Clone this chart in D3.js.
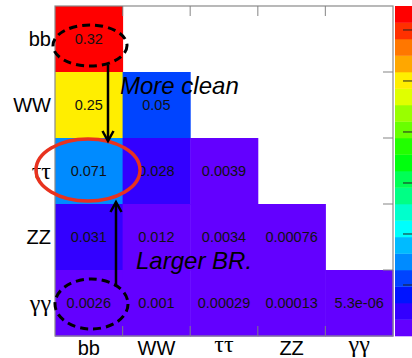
<!DOCTYPE html>
<html>
<head>
<meta charset="utf-8">
<script src="https://cdnjs.cloudflare.com/ajax/libs/d3/7.8.5/d3.min.js"></script>
<style>
    html, body { margin: 0; padding: 0; background: #fff; }
    svg { display: block; }
</style>
</head>
<body>
<svg width="412" height="358"></svg>
<script>
// channels, rows top -> bottom, columns left -> right
var channels = ['bb', 'WW', '\u03c4\u03c4', 'ZZ', '\u03b3\u03b3'];
var serifLabels = ['\u03c4\u03c4', '\u03b3\u03b3'];

// lower triangle, one array per row
var rowBB = [0.32];
var rowWW = [0.25, 0.05];
var rowTauTau = [0.071, 0.028, 0.0039];
var rowZZ = [0.031, 0.012, 0.0034, 0.00076];
var rowGamGam = [0.0026, 0.001, 0.00029, 0.00013, 5.3e-06];
var cellLabels = [
    ['0.32'],
    ['0.25', '0.05'],
    ['0.071', '0.028', '0.0039'],
    ['0.031', '0.012', '0.0034', '0.00076'],
    ['0.0026', '0.001', '0.00029', '0.00013', '5.3e-06']
];
var zRange = [0, 0.3235];
var zTicks = [0.05, 0.1, 0.15, 0.2, 0.25, 0.3];
var nLevels = 20;

(function() {
    var self = this;
    var svg = d3.select('svg');

    var frame = { left: 55, right: 393, top: 6, bottom: 336 };

    var x = d3.scaleBand().domain(channels).range([frame.left, frame.right]);
    var y = d3.scaleBand().domain(channels).range([frame.top, frame.bottom]);
    var z = d3.scaleLinear().domain(zRange).range([0, nLevels]);
    var zAxisY = d3.scaleLinear().domain(zRange).range([frame.bottom, frame.top]);

    // ROOT "pretty palette" (50 colours, hue 280 -> 0), 20 contour levels
    this.levelColor = function(k) {
        var idx = Math.floor((k + 0.99) * 50 / nLevels);
        var hue = 280 - (idx + 1) * 280 / 50;
        return d3.hsl(hue, 1, 0.5).toString();
    };
    this.valueColor = function(v) {
        var k = Math.min(nLevels - 1, Math.floor(z(v)));
        return self.levelColor(k);
    };

    var rows = [rowBB, rowWW, rowTauTau, rowZZ, rowGamGam];
    var cells = [];
    rows.forEach(function(r, i) {
        r.forEach(function(v, j) {
            cells.push({ row: channels[i], col: channels[j], v: v, label: cellLabels[i][j] });
        });
    });

    svg.selectAll('rect.cell')
        .data(cells)
        .enter().append('rect')
        .attr('class', 'cell')
        .attr('x', function(d) { return x(d.col); })
        .attr('y', function(d) { return y(d.row); })
        .attr('width', x.bandwidth() + 0.5)
        .attr('height', y.bandwidth() + 0.5)
        .style('fill', function(d) { return self.valueColor(d.v); });

    svg.selectAll('text.val')
        .data(cells)
        .enter().append('text')
        .attr('class', 'val')
        .attr('x', function(d) { return x(d.col) + x.bandwidth() / 2; })
        .attr('y', function(d) { return y(d.row) + y.bandwidth() / 2 + 5; })
        .attr('text-anchor', 'middle')
        .style('font-family', 'Liberation Sans, Arial, sans-serif')
        .style('font-size', '14.5px')
        .style('fill', '#111')
        .text(function(d) { return d.label; });

    // frame + ticks
    svg.append('rect')
        .attr('x', frame.left).attr('y', frame.top)
        .attr('width', frame.right - frame.left)
        .attr('height', frame.bottom - frame.top)
        .style('fill', 'none').style('stroke', '#8a8a8a').style('stroke-width', 1.2);

    var inner = channels.slice(1);
    var tk = svg.append('g').style('stroke', '#808080').style('stroke-width', 1.2).style('opacity', 0.8);
    inner.forEach(function(c) {
        tk.append('line').attr('x1', x(c)).attr('x2', x(c)).attr('y1', frame.top).attr('y2', frame.top + 10);
        tk.append('line').attr('x1', x(c)).attr('x2', x(c)).attr('y1', frame.bottom).attr('y2', frame.bottom - 10);
        tk.append('line').attr('y1', y(c)).attr('y2', y(c)).attr('x1', frame.right).attr('x2', frame.right - 10);
    });

    // axis labels
    var isSerif = function(d) { return serifLabels.indexOf(d) >= 0; };
    this.labelFont = function(sel) {
        sel.style('font-family', function(d) {
                return isSerif(d) ? 'Liberation Serif, Times New Roman, serif' : 'Liberation Sans, Arial, sans-serif';
            })
            .style('font-size', function(d) { return isSerif(d) ? '24px' : '20px'; })
            .style('fill', '#000')
            .text(function(d) { return d; });
    };

    svg.selectAll('text.ylab')
        .data(channels)
        .enter().append('text')
        .attr('class', 'ylab')
        .attr('x', 51)
        .attr('y', function(d) { return y(d) + y.bandwidth() / 2 + (isSerif(d) ? 7.5 : 7); })
        .attr('text-anchor', 'end')
        .call(self.labelFont);

    svg.selectAll('text.xlab')
        .data(channels)
        .enter().append('text')
        .attr('class', 'xlab')
        .attr('x', function(d) { return x(d) + x.bandwidth() / 2; })
        .attr('y', function(d) { return isSerif(d) ? 351.5 : 355; })
        .attr('text-anchor', 'middle')
        .call(self.labelFont);

    // palette
    var bandH = (frame.bottom - frame.top) / nLevels;
    svg.selectAll('rect.pal')
        .data(d3.range(nLevels))
        .enter().append('rect')
        .attr('class', 'pal')
        .attr('x', 395)
        .attr('y', function(k) { return frame.bottom - (k + 1) * bandH; })
        .attr('width', 30)
        .attr('height', bandH + 0.3)
        .style('fill', function(k) { return self.levelColor(k); });

    svg.selectAll('line.ptick')
        .data(zTicks)
        .enter().append('line')
        .attr('class', 'ptick')
        .attr('x1', 403).attr('x2', 412)
        .attr('y1', function(d) { return zAxisY(d); })
        .attr('y2', function(d) { return zAxisY(d); })
        .style('stroke', '#222').style('stroke-width', 1);

    // annotations
    svg.append('ellipse')
        .attr('cx', 88).attr('cy', 170).attr('rx', 52).attr('ry', 31)
        .style('fill', 'none').style('stroke', '#e8321e').style('stroke-width', 3.5);

    var dashed = [[90, 45.5, 37, 20.5], [91.5, 304, 36.5, 25]];
    svg.selectAll('ellipse.dash')
        .data(dashed)
        .enter().append('ellipse')
        .attr('class', 'dash')
        .attr('cx', function(d) { return d[0]; })
        .attr('cy', function(d) { return d[1]; })
        .attr('rx', function(d) { return d[2]; })
        .attr('ry', function(d) { return d[3]; })
        .style('fill', 'none').style('stroke', '#000')
        .style('stroke-width', 3).style('stroke-dasharray', '8,5');

    this.arrow = function(ax, y1, y2) {
        var dir = y2 > y1 ? 1 : -1;
        var g = svg.append('g').style('stroke', '#000').style('stroke-width', 2.5).style('fill', 'none');
        g.append('line').attr('x1', ax).attr('x2', ax).attr('y1', y1).attr('y2', y2 - dir * 1);
        g.append('path')
            .attr('d', 'M' + (ax - 5.5) + ',' + (y2 - dir * 10) + 'L' + ax + ',' + y2 + 'L' + (ax + 5.5) + ',' + (y2 - dir * 10))
            .style('stroke-linejoin', 'miter');
    };
    self.arrow(108, 65, 141);
    self.arrow(116, 287, 202);

    svg.append('text')
        .attr('x', 120).attr('y', 94)
        .style('font-family', 'Liberation Sans, Arial, sans-serif')
        .style('font-style', 'italic').style('font-size', '24px')
        .text('More clean');

    svg.append('text')
        .attr('x', 136).attr('y', 269)
        .style('font-family', 'Liberation Sans, Arial, sans-serif')
        .style('font-style', 'italic').style('font-size', '24px')
        .text('Larger BR.');
})();
</script>
</body>
</html>
